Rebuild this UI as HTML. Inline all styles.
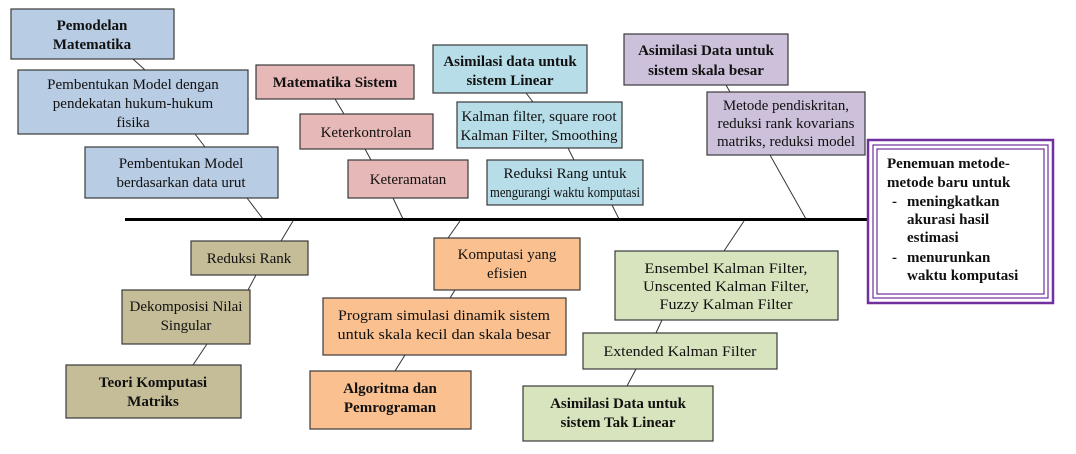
<!DOCTYPE html>
<html><head><meta charset="utf-8"><style>
html,body{margin:0;padding:0;background:#fff;}
svg{display:block;}
text{font-family:"Liberation Serif",serif;font-size:15px;fill:#111;}
.b{font-weight:bold;}
rect{stroke:#3a3a3a;stroke-width:1.2;}
line{stroke:#333;stroke-width:1;}
</style></head><body>
<svg width="1076" height="454" viewBox="0 0 1076 454" xmlns="http://www.w3.org/2000/svg">
<line x1="133" y1="59" x2="145" y2="70"/>
<line x1="195" y1="134" x2="205" y2="147"/>
<line x1="247" y1="198" x2="263" y2="219"/>
<line x1="335" y1="99" x2="344" y2="114"/>
<line x1="365" y1="149" x2="371" y2="160"/>
<line x1="393" y1="198" x2="403" y2="219"/>
<line x1="526" y1="93" x2="533" y2="102"/>
<line x1="568" y1="148" x2="574" y2="160"/>
<line x1="612" y1="205" x2="619" y2="219"/>
<line x1="726" y1="85" x2="730" y2="92"/>
<line x1="770" y1="155" x2="806" y2="219"/>
<line x1="293" y1="221" x2="281" y2="241"/>
<line x1="256" y1="275" x2="248" y2="290"/>
<line x1="207" y1="344" x2="193" y2="365"/>
<line x1="460" y1="221" x2="448" y2="238"/>
<line x1="455" y1="290" x2="450" y2="298"/>
<line x1="405" y1="355" x2="395" y2="371"/>
<line x1="744" y1="221" x2="724" y2="251"/>
<line x1="662" y1="320" x2="656" y2="333"/>
<line x1="636" y1="369" x2="627" y2="386"/>
<line x1="125" y1="219.5" x2="870" y2="219.5" style="stroke:#000;stroke-width:3"/>

<rect x="11" y="9" width="163" height="50" fill="#b8cce4"/>
<text class="b" x="92" y="30" text-anchor="middle">Pemodelan</text>
<text class="b" x="92" y="49" text-anchor="middle">Matematika</text>
<rect x="18" y="70" width="230" height="64" fill="#b8cce4"/>
<text x="133" y="89" text-anchor="middle">Pembentukan Model dengan</text>
<text x="133" y="108" text-anchor="middle">pendekatan hukum-hukum</text>
<text x="133" y="127" text-anchor="middle">fisika</text>
<rect x="85" y="147" width="193" height="51" fill="#b8cce4"/>
<text x="181" y="168" text-anchor="middle">Pembentukan Model</text>
<text x="181" y="187" text-anchor="middle">berdasarkan data urut</text>

<rect x="256" y="65" width="158" height="34" fill="#e6b8b7"/>
<text class="b" x="335" y="87" text-anchor="middle">Matematika  Sistem</text>
<rect x="300" y="114" width="133" height="35" fill="#e6b8b7"/>
<text x="366" y="137" text-anchor="middle">Keterkontrolan</text>
<rect x="348" y="160" width="120" height="38" fill="#e6b8b7"/>
<text x="408" y="184" text-anchor="middle">Keteramatan</text>

<rect x="433" y="45" width="154" height="48" fill="#b7dde8"/>
<text class="b" x="510" y="66" text-anchor="middle">Asimilasi  data untuk</text>
<text class="b" x="510" y="85" text-anchor="middle">sistem  Linear</text>
<rect x="457" y="102" width="165" height="46" fill="#b7dde8"/>
<text x="539" y="121" text-anchor="middle" textLength="155" lengthAdjust="spacingAndGlyphs">Kalman filter, square root</text>
<text x="539" y="140" text-anchor="middle" textLength="157" lengthAdjust="spacingAndGlyphs">Kalman Filter, Smoothing</text>
<rect x="487" y="160" width="156" height="45" fill="#b7dde8"/>
<text x="565" y="178" text-anchor="middle" textLength="123" lengthAdjust="spacingAndGlyphs">Reduksi Rang untuk</text>
<text x="565" y="197" text-anchor="middle" textLength="150" lengthAdjust="spacingAndGlyphs">mengurangi waktu komputasi</text>

<rect x="624" y="34" width="164" height="51" fill="#ccc0da"/>
<text class="b" x="706" y="55" text-anchor="middle">Asimilasi  Data untuk</text>
<text class="b" x="706" y="75" text-anchor="middle">sistem  skala besar</text>
<rect x="707" y="92" width="158" height="63" fill="#ccc0da"/>
<text x="786" y="110" text-anchor="middle" textLength="126" lengthAdjust="spacingAndGlyphs">Metode pendiskritan,</text>
<text x="786" y="128" text-anchor="middle" textLength="137" lengthAdjust="spacingAndGlyphs">reduksi rank kovarians</text>
<text x="786" y="146" text-anchor="middle" textLength="138" lengthAdjust="spacingAndGlyphs">matriks, reduksi model</text>

<rect x="868" y="140" width="185" height="163" fill="#fff" style="stroke:#7030a0;stroke-width:2.5"/>
<rect x="873" y="145" width="175" height="153" fill="none" style="stroke:#7030a0;stroke-width:1.2"/>
<rect x="877" y="149" width="167" height="145" fill="none" style="stroke:#7030a0;stroke-width:1.2"/>
<text class="b" x="887" y="168">Penemuan metode-</text>
<text class="b" x="887" y="187">metode baru untuk</text>
<text class="b" x="892" y="206">-</text>
<text class="b" x="907" y="206">meningkatkan</text>
<text class="b" x="907" y="224">akurasi hasil</text>
<text class="b" x="907" y="242">estimasi</text>
<text class="b" x="892" y="262">-</text>
<text class="b" x="907" y="262">menurunkan</text>
<text class="b" x="907" y="280">waktu komputasi</text>

<rect x="191" y="241" width="117" height="34" fill="#c4bd97"/>
<text x="249" y="263" text-anchor="middle">Reduksi Rank</text>
<rect x="122" y="290" width="128" height="54" fill="#c4bd97"/>
<text x="186" y="311" text-anchor="middle">Dekomposisi  Nilai</text>
<text x="186" y="330" text-anchor="middle">Singular</text>
<rect x="66" y="365" width="175" height="53" fill="#c4bd97"/>
<text class="b" x="153" y="387" text-anchor="middle">Teori Komputasi</text>
<text class="b" x="153" y="406" text-anchor="middle">Matriks</text>

<rect x="434" y="238" width="146" height="52" fill="#fac090"/>
<text x="507" y="259" text-anchor="middle">Komputasi yang</text>
<text x="507" y="278" text-anchor="middle">efisien</text>
<rect x="323" y="298" width="243" height="57" fill="#fac090"/>
<text x="444" y="320" text-anchor="middle" textLength="212" lengthAdjust="spacingAndGlyphs">Program simulasi  dinamik sistem</text>
<text x="444" y="339" text-anchor="middle" textLength="213" lengthAdjust="spacingAndGlyphs">untuk skala kecil  dan skala  besar</text>
<rect x="310" y="371" width="161" height="58" fill="#fac090"/>
<text class="b" x="390" y="393" text-anchor="middle">Algoritma  dan</text>
<text class="b" x="390" y="412" text-anchor="middle">Pemrograman</text>

<rect x="615" y="251" width="223" height="69" fill="#d7e4bd"/>
<text x="726" y="273" text-anchor="middle" textLength="163" lengthAdjust="spacingAndGlyphs">Ensembel  Kalman Filter,</text>
<text x="726" y="291" text-anchor="middle" textLength="166" lengthAdjust="spacingAndGlyphs">Unscented Kalman  Filter,</text>
<text x="726" y="309" text-anchor="middle" textLength="133" lengthAdjust="spacingAndGlyphs">Fuzzy  Kalman Filter</text>
<rect x="583" y="333" width="194" height="36" fill="#d7e4bd"/>
<text x="680" y="356" text-anchor="middle" textLength="153" lengthAdjust="spacingAndGlyphs">Extended Kalman Filter</text>
<rect x="523" y="386" width="190" height="55" fill="#d7e4bd"/>
<text class="b" x="618" y="408" text-anchor="middle">Asimilasi  Data untuk</text>
<text class="b" x="618" y="427" text-anchor="middle">sistem  Tak Linear</text>
</svg>
</body></html>
